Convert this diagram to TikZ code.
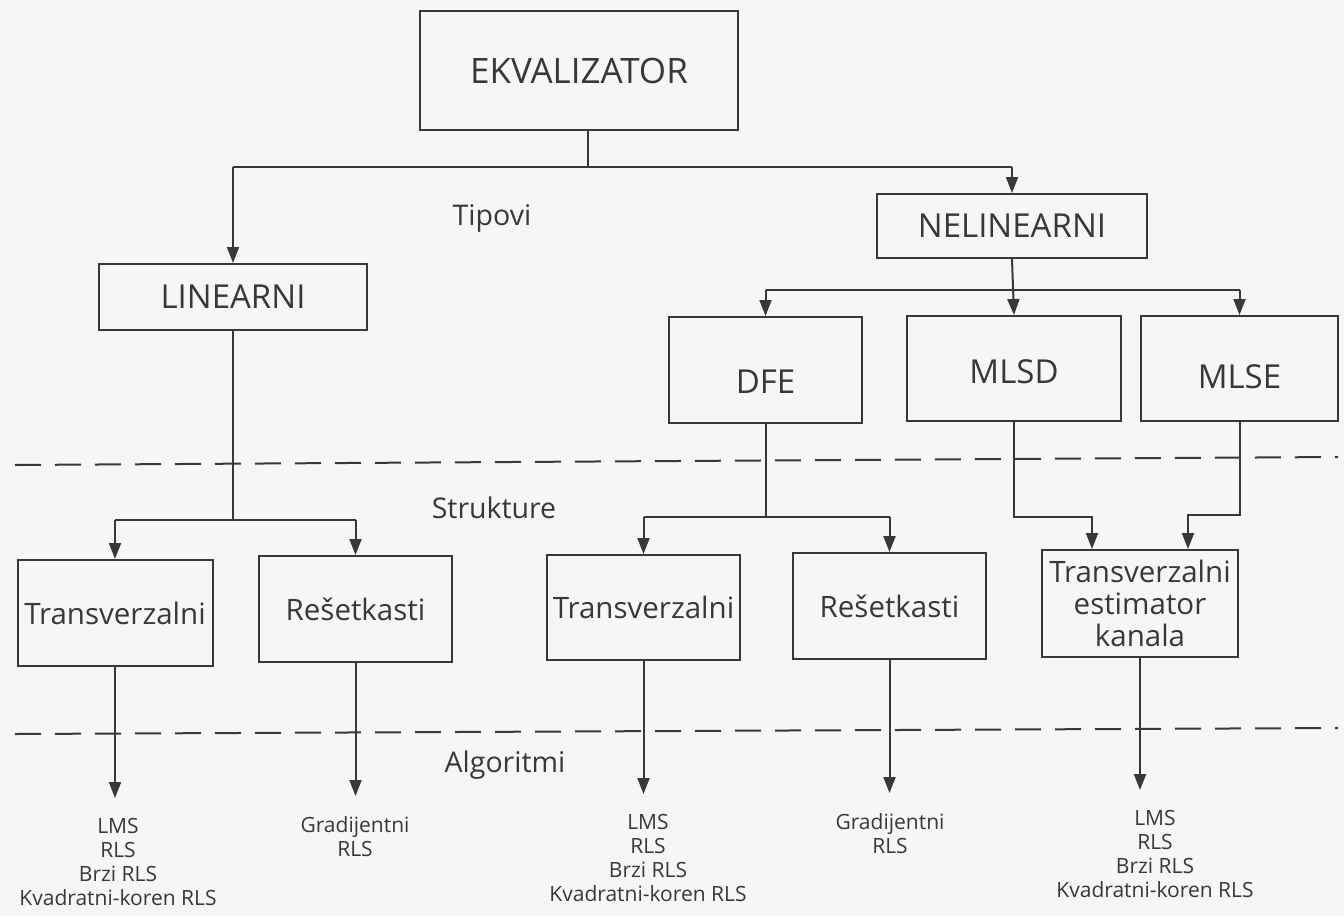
\documentclass[tikz,border=0pt]{standalone}
\usepackage{fontspec}
\setmainfont{Open Sans}
\usetikzlibrary{arrows.meta,calc}
\definecolor{ink}{HTML}{383838}
\definecolor{paper}{HTML}{F6F6F6}
\tikzset{
  box/.style={draw=ink, line width=2pt, rectangle, inner sep=0pt, text=ink},
  big/.style={font=\fontsize{35}{40}\selectfont},
  mid/.style={font=\fontsize{33}{38}\selectfont},
  sml/.style={font=\fontsize{29.5}{32}\selectfont},
  lbl/.style={text=ink, inner sep=0pt, font=\fontsize{28.5}{32}\selectfont},
  alg/.style={text=ink, align=center, inner xsep=0pt, inner ysep=20pt, font=\fontsize{21}{24}\selectfont},
  ln/.style={draw=ink, line width=2pt},
  arr/.style={ln, -{Triangle[length=16pt,width=12pt]}},
  dsh/.style={draw=ink, line width=2pt, dash pattern=on 26pt off 14pt},
}
\begin{document}
\begin{tikzpicture}[x=1pt,y=-1pt]
\fill[paper] (0,0) rectangle (1344,916);
\useasboundingbox (0,0) rectangle (1344,916);

% nodes
\node[box,big,minimum width=318pt,minimum height=119pt] (ekv) at (579,70.5) {EKVALIZATOR};
\node[box,mid,minimum width=270pt,minimum height=64pt] (nel) at (1012,226) {NELINEARNI};
\node[box,mid,minimum width=268pt,minimum height=66pt] (lin) at (233,297) {LINEARNI};
\node[box,mid,minimum width=193pt,minimum height=106pt,text height=47pt,text depth=0pt] (dfe) at (765.5,370) {DFE};
\node[box,mid,minimum width=214pt,minimum height=105pt,text height=30pt,text depth=0pt] (mlsd) at (1014,368.5) {MLSD};
\node[box,mid,minimum width=197pt,minimum height=105pt,text height=40pt,text depth=0pt] (mlse) at (1239.5,368.5) {MLSE};
\node[box,sml,minimum width=195pt,minimum height=106pt] (t1) at (115,613) {Transverzalni};
\node[box,sml,minimum width=193pt,minimum height=106pt] (r1) at (355.5,609) {Rešetkasti};
\node[box,sml,minimum width=193pt,minimum height=105pt] (t2) at (643.5,607.5) {Transverzalni};
\node[box,sml,minimum width=193pt,minimum height=106pt] (r2) at (889.5,606) {Rešetkasti};
\node[box,sml,align=center,minimum width=196pt,minimum height=107pt] (tek) at (1140,603.5) {Transverzalni\\estimator\\kanala};

% labels
\node[lbl] (tip) at (492,218) {Tipovi};
\node[lbl] (str) at (494,508) {Strukture};
\node[lbl] (alg) at (505,765) {Algoritmi};

% dashed separators
\draw[dsh] (15,465) -- (1338,457);
\draw[dsh] (15,734) -- (1338,728);

% top level
\coordinate (j0) at (588,167);
\draw[ln] (j0 |- ekv.south) -- (j0);
\draw[ln] (lin.north |- j0) -- (nel.north |- j0);
\draw[arr] (lin.north |- j0) -- (lin.north);
\draw[arr] (nel.north |- j0) -- (nel.north);

% nelinearni children
\coordinate (j1) at (1014,290);
\draw[ln] (dfe.north |- j1) -- (mlse.north |- j1);
\draw[arr] (nel.south) -- (mlsd.north);
\draw[arr] (dfe.north |- j1) -- (dfe.north);
\draw[arr] (mlse.north |- j1) -- (mlse.north);

% linearni children
\coordinate (j2) at (232,520);
\draw[ln] (lin.south) -- (lin.south |- j2);
\draw[ln] (t1.north |- j2) -- (r1.north |- j2);
\draw[arr] (t1.north |- j2) -- (t1.north);
\draw[arr] (r1.north |- j2) -- (r1.north);

% dfe children
\coordinate (j3) at (765.5,517);
\draw[ln] (dfe.south) -- (j3);
\draw[ln] (t2.north |- j3) -- (r2.north |- j3);
\draw[arr] (t2.north |- j3) -- (t2.north);
\draw[arr] (r2.north |- j3) -- (r2.north);

% mlsd / mlse to estimator
\coordinate (ta) at ($(tek.north)+(-48,0)$);
\coordinate (tb) at ($(tek.north)+(48,0)$);
\draw[arr] (mlsd.south) -- ++(0,95) -| (ta);
\draw[arr] (mlse.south) -- ++(0,93) -| (tb);

% algorithms
\node[alg,anchor=north] (a1) at (118,798) {LMS\\RLS\\Brzi RLS\\Kvadratni-koren RLS};
\node[alg,anchor=north] (a2) at (355,796) {Gradijentni\\RLS};
\node[alg,anchor=north] (a3) at (648,794) {LMS\\RLS\\Brzi RLS\\Kvadratni-koren RLS};
\node[alg,anchor=north] (a4) at (890,793) {Gradijentni\\RLS};
\node[alg,anchor=north] (a5) at (1155,790) {LMS\\RLS\\Brzi RLS\\Kvadratni-koren RLS};

\draw[arr] (t1.south) -- (t1.south |- a1.north);
\draw[arr] (r1.south) -- (r1.south |- a2.north);
\draw[arr] (t2.south) -- (t2.south |- a3.north);
\draw[arr] (r2.south) -- (r2.south |- a4.north);
\draw[arr] (tek.south) -- (tek.south |- a5.north);
\end{tikzpicture}
\end{document}
